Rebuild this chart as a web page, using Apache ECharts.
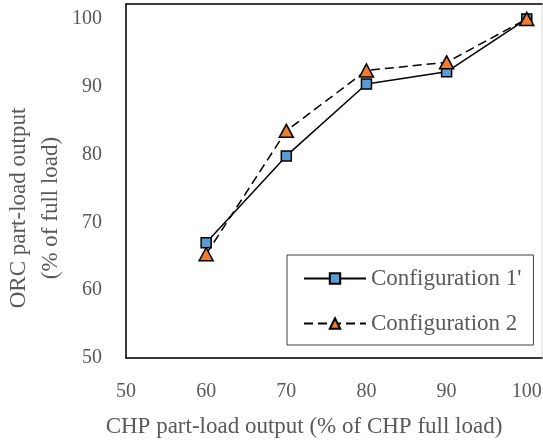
<!DOCTYPE html>
<html>
<head>
<meta charset="utf-8">
<script src="https://cdn.jsdelivr.net/npm/echarts@6/dist/echarts.min.js"></script>
<style>
  html, body { margin: 0; padding: 0; background: #fff; }
  #chart { width: 543px; height: 440px; }
</style>
</head>
<body>
<div id="chart"></div>
<script>
// CHP part-load points (% of CHP full load)
const chpLoad = [60, 70, 80, 90, 100];
// ORC part-load output (% of full load) for each configuration
const config1 = [67.0, 79.8, 90.4, 92.2, 100];
const config2 = [65.3, 83.5, 92.4, 93.6, 100];
const seriesNames = ["Configuration 1'", 'Configuration 2'];
const xTitle = 'CHP part-load output (% of CHP full load)';
const yTitle = 'ORC part-load output\n(% of full load)';

const FONT = 'Liberation Serif';
const TEXT = '#595959';

const pairs = (xs, ys) => xs.map((x, i) => [x, ys[i]]);
const tickFmt = v => (Math.abs(v % 10) < 1e-9 ? String(v) : '');

const chart = echarts.init(document.getElementById('chart'), null, { renderer: 'canvas' });
chart.setOption({
  animation: false,
  backgroundColor: '#fff',
  textStyle: { fontFamily: FONT },
  grid: {
    left: 126, top: 4, right: 1, bottom: 82,
    outerBoundsMode: 'none',
    show: true, borderColor: '#d9d9d9', borderWidth: 1
  },
  xAxis: [{
    type: 'value', min: 50, max: 101.9, interval: 10,
    axisLine: { show: true, onZero: false, lineStyle: { color: '#000', width: 1.5 } },
    axisTick: { show: false },
    splitLine: { show: false },
    axisLabel: { formatter: tickFmt, color: TEXT, fontSize: 20, fontFamily: FONT, margin: 24, showMaxLabel: true },
    name: xTitle, nameLocation: 'middle', nameGap: 57,
    nameTextStyle: { color: TEXT, fontSize: 23, fontFamily: FONT, padding: [0, 60, 0, 0] }
  }, {
    type: 'value', position: 'top', min: 50, max: 101.9,
    axisLine: { show: true, onZero: false, lineStyle: { color: '#000', width: 1.5 } },
    axisTick: { show: false }, axisLabel: { show: false }, splitLine: { show: false }
  }],
  yAxis: {
    type: 'value', min: 50, max: 102.2, interval: 10,
    axisLine: { show: true, onZero: false, lineStyle: { color: '#000', width: 1.5 } },
    axisTick: { show: false },
    splitLine: { show: false },
    axisLabel: { formatter: tickFmt, color: TEXT, fontSize: 20, fontFamily: FONT, margin: 24, showMaxLabel: true },
    name: yTitle, nameLocation: 'middle', nameGap: 53, nameRotate: 90,
    nameMoveOverlap: false,
    nameTextStyle: { color: TEXT, fontSize: 23, fontFamily: FONT, lineHeight: 32, padding: [0, 54, 6, 0] }
  },
  legend: {
    orient: 'vertical',
    left: 287, top: 255,
    padding: [12, 12, 10, 16],
    itemGap: 22,
    itemWidth: 62, itemHeight: 13,
    backgroundColor: '#fff',
    borderColor: '#404040', borderWidth: 1,
    textStyle: { color: TEXT, fontSize: 23, fontFamily: FONT },
    data: seriesNames
  },
  series: [{
    name: seriesNames[0], type: 'line', data: pairs(chpLoad, config1),
    symbol: 'rect', symbolSize: 10,
    lineStyle: { color: '#000', width: 1.5 },
    itemStyle: { color: '#5b9bd5', borderColor: '#000', borderWidth: 1.5 },
    z: 2
  }, {
    name: seriesNames[1], type: 'line', data: pairs(chpLoad, config2),
    symbol: 'triangle', symbolSize: [14, 13],
    lineStyle: { color: '#000', width: 1.5, type: [9, 5] },
    itemStyle: { color: '#ed7d31', borderColor: '#000', borderWidth: 1.5 },
    z: 3
  }]
});
</script>
</body>
</html>
